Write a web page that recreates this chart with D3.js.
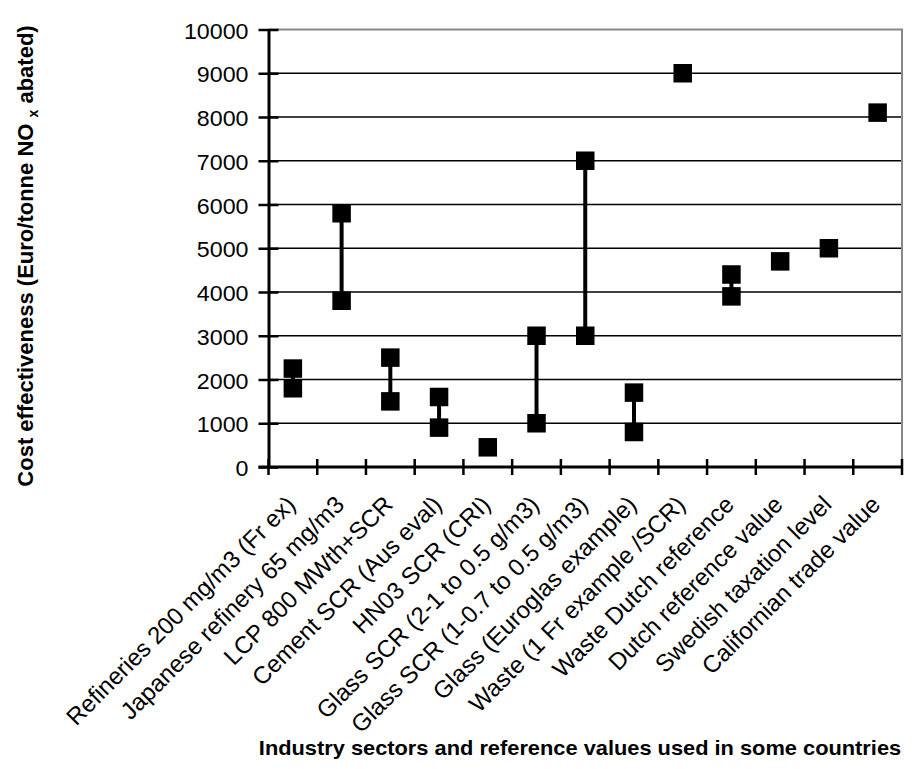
<!DOCTYPE html>
<html><head><meta charset="utf-8">
<script src="https://cdn.jsdelivr.net/npm/d3@7"></script>
<style>body{margin:0;background:#fff}svg{display:block}</style>
</head><body>
<svg id="chart" width="915" height="769"></svg>
<script>
const categories = [
  "Refineries 200 mg/m3 (Fr ex)",
  "Japanese refinery 65 mg/m3",
  "LCP 800 MWth+SCR",
  "Cement SCR (Aus eval)",
  "HN03 SCR (CRI)",
  "Glass SCR (2-1 to 0.5 g/m3)",
  "Glass SCR (1-0.7 to 0.5 g/m3)",
  "Glass (Euroglas example)",
  "Waste (1 Fr example /SCR)",
  "Waste Dutch reference",
  "Dutch reference value",
  "Swedish taxation level",
  "Californian trade value"
];
const highValues = [2250, 5800, 2500, 1600, 450, 3000, 7000, 1700, 9000, 4400, 4700, 5000, 8100];
const lowValues  = [1800, 3800, 1500, 900, null, 1000, 3000, 800, null, 3900, null, null, null];
const yTicks = [0,1000,2000,3000,4000,5000,6000,7000,8000,9000,10000];

const svg = d3.select("#chart");
const L = 268.5, R = 902, T = 29.5, B = 467;
const SX = 1.08; // horizontal text stretch
const x = d3.scaleBand().domain(categories).range([L, R]);
const y = d3.scaleLinear().domain([0, 10000]).range([B, T]);
const font = "Arial, 'Liberation Sans', sans-serif";

svg.append("g").selectAll("line").data(yTicks.filter(v => v > 0 && v < 10000)).join("line")
  .attr("x1", L).attr("x2", R).attr("y1", d => y(d)).attr("y2", d => y(d))
  .attr("stroke", "#000").attr("stroke-width", 1.3);
svg.append("path").attr("d", `M${L},${y(10000)}H${R}V${B}`)
  .attr("fill", "none").attr("stroke", "#888").attr("stroke-width", 2);

const yAxis = svg.append("g").attr("transform", `translate(${L},0)`)
  .call(d3.axisLeft(y).tickValues(yTicks).tickSizeInner(10).tickSizeOuter(0).tickPadding(10).tickFormat(d3.format("d")));
yAxis.select(".domain").attr("stroke-width", 3);
yAxis.selectAll(".tick line").attr("x2", 10).attr("x1", -10).attr("stroke-width", 2.5);
yAxis.selectAll(".tick text").attr("font-family", font).attr("font-size", 21.5).attr("fill", "#000")
  .attr("x", 0).attr("dy", "0.4em").attr("transform", `translate(-20,0) scale(${SX},1)`);

svg.append("line").attr("x1", L - 10).attr("x2", R).attr("y1", B).attr("y2", B)
  .attr("stroke", "#000").attr("stroke-width", 3);
const bounds = categories.map(c => x(c)).concat([R]);
svg.append("g").selectAll("line").data(bounds).join("line")
  .attr("x1", d => d).attr("x2", d => d).attr("y1", B - 8).attr("y2", B + 8)
  .attr("stroke", "#000").attr("stroke-width", 2.5);

svg.append("g").selectAll("text").data(categories).join("text")
  .attr("transform", d => `translate(${x(d) + x.bandwidth()/2 + 4},${B + 39}) rotate(-45)`)
  .attr("text-anchor", "end")
  .attr("font-family", font).attr("font-size", 24).attr("fill", "#000")
  .text(d => d);

const pairs = categories.map((c, i) => ({c, hi: highValues[i], lo: lowValues[i]})).filter(d => d.lo != null);
svg.append("g").selectAll("line").data(pairs).join("line")
  .attr("x1", d => x(d.c) + x.bandwidth()/2).attr("x2", d => x(d.c) + x.bandwidth()/2)
  .attr("y1", d => y(d.hi)).attr("y2", d => y(d.lo))
  .attr("stroke", "#000").attr("stroke-width", 4);

const pts = [];
categories.forEach((c, i) => { pts.push({c, v: highValues[i]}); if (lowValues[i] != null) pts.push({c, v: lowValues[i]}); });
const s = 18.5;
svg.append("g").selectAll("rect").data(pts).join("rect")
  .attr("x", d => x(d.c) + x.bandwidth()/2 - s/2).attr("y", d => y(d.v) - s/2)
  .attr("width", s).attr("height", s).attr("fill", "#000");

const yt = svg.append("text").attr("transform", `translate(33,256) rotate(-90)`)
  .attr("text-anchor", "middle").attr("font-family", font).attr("font-size", 22).attr("font-weight", "bold");
yt.append("tspan").text("Cost effectiveness (Euro/tonne NO ");
yt.append("tspan").attr("font-size", 14).attr("dy", 5).text("x");
yt.append("tspan").attr("dy", -5).text(" abated)");

svg.append("text").attr("transform", `translate(580,755) scale(${SX},1)`).attr("text-anchor", "middle")
  .attr("font-family", font).attr("font-size", 20.2).attr("font-weight", "bold")
  .text("Industry sectors and reference values used in some countries");
</script>
</body></html>
